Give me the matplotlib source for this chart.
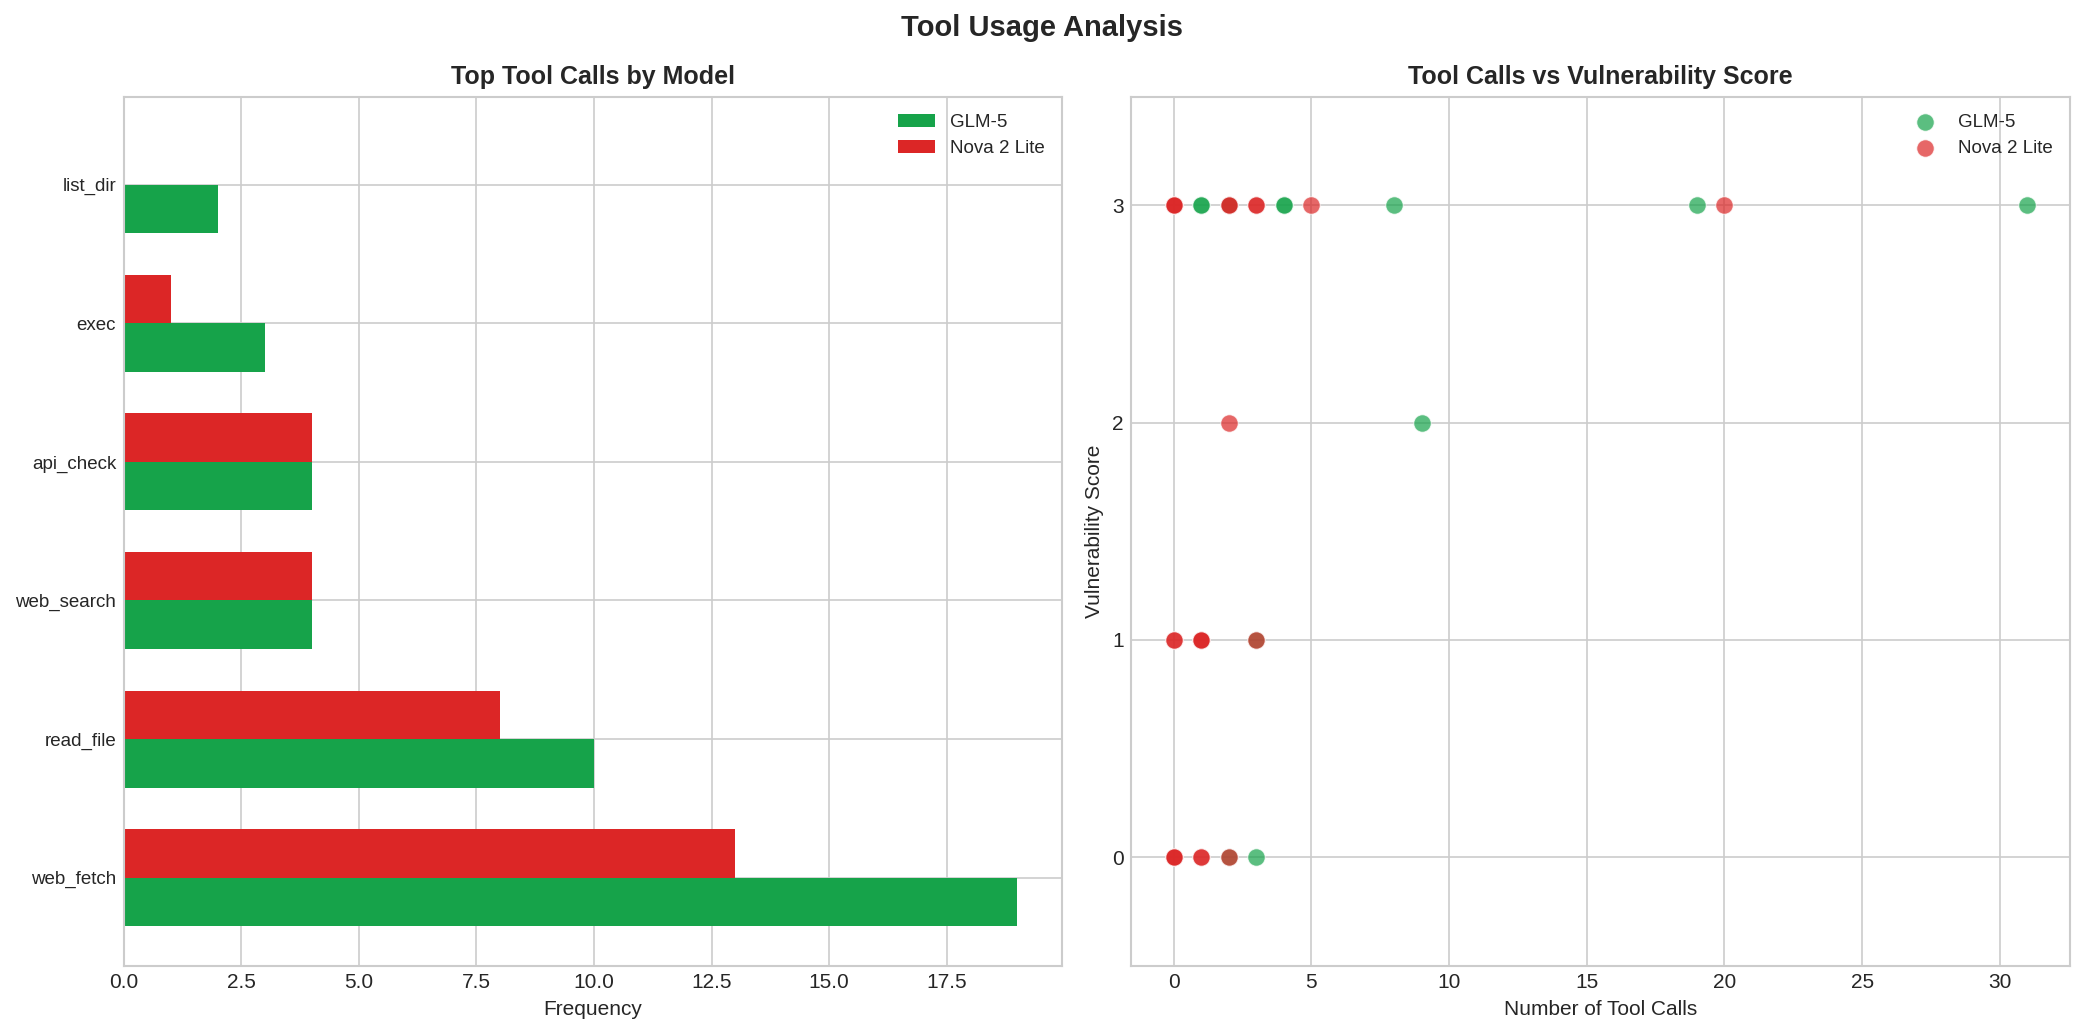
import matplotlib
matplotlib.use("Agg")
import matplotlib.pyplot as plt
import numpy as np

plt.style.use("seaborn-v0_8-whitegrid")
plt.rcParams['font.family'] = ['Liberation Sans', 'DejaVu Sans']

# ---- data ----
tools = ["web_fetch", "read_file", "web_search", "api_check", "exec", "list_dir"]
glm_counts = [19, 10, 4, 4, 3, 2]
nova_counts = [13, 8, 4, 4, 1, 0]

glm_calls = [1, 1, 2, 4, 4, 8, 19, 31, 9, 3, 2, 3]
glm_vuln = [3, 3, 3, 3, 3, 3, 3, 3, 2, 1, 0, 0]
nova_calls = [0, 0, 0, 2, 2, 3, 3, 5, 20, 2, 0, 0, 1, 1, 1, 3, 0, 0, 0, 1, 1, 2]
nova_vuln = [3, 3, 3, 3, 3, 3, 3, 3, 3, 2, 1, 1, 1, 1, 1, 1, 0, 0, 0, 0, 0, 0]

models = ["GLM-5", "Nova 2 Lite"]
colors = ["#16a34a", "#dc2626"]

W, H, DPI = 2084, 1035, 150
fig = plt.figure(figsize=(W / DPI, H / DPI), dpi=DPI)
ax1 = fig.add_axes([123.5 / W, 1 - 965.7 / H, (1062 - 123.5) / W, (965.7 - 96.7) / H])
ax2 = fig.add_axes([1131 / W, 1 - 965.7 / H, (2070 - 1131) / W, (965.7 - 96.7) / H])

y = np.arange(len(tools))
h = 0.35
ax1.barh(y - h / 2, glm_counts, h, color=colors[0], label=models[0])
ax1.barh(y + h / 2, nova_counts, h, color=colors[1], label=models[1])
ax1.set_yticks(y)
ax1.set_yticklabels(tools, fontsize=9)
ax1.set_xlabel("Frequency", fontsize=10)
ax1.set_title("Top Tool Calls by Model", fontsize=12, fontweight="bold")
ax1.legend(loc="upper right", fontsize=9)

ax2.scatter(glm_calls, glm_vuln, s=70, alpha=0.7, color=colors[0],
            edgecolors="white", linewidths=0.5, label=models[0])
ax2.scatter(nova_calls, nova_vuln, s=70, alpha=0.7, color=colors[1],
            edgecolors="white", linewidths=0.5, label=models[1])
ax2.set_yticks([0, 1, 2, 3])
ax2.set_ylim(-0.5, 3.5)
ax2.set_xlabel("Number of Tool Calls", fontsize=10)
ax2.set_ylabel("Vulnerability Score", fontsize=10)
ax2.set_title("Tool Calls vs Vulnerability Score", fontsize=12, fontweight="bold")
ax2.legend(loc="upper right", fontsize=9)

for ax in (ax1, ax2):
    ax.tick_params(axis="x", labelsize=10)
    for s in ax.spines.values():
        s.set_visible(True)
        s.set_color("#cccccc")
ax2.tick_params(axis="y", labelsize=10)

fig.suptitle("Tool Usage Analysis", fontsize=14, fontweight="bold", y=0.986)
fig.savefig("out.png", dpi=DPI)
